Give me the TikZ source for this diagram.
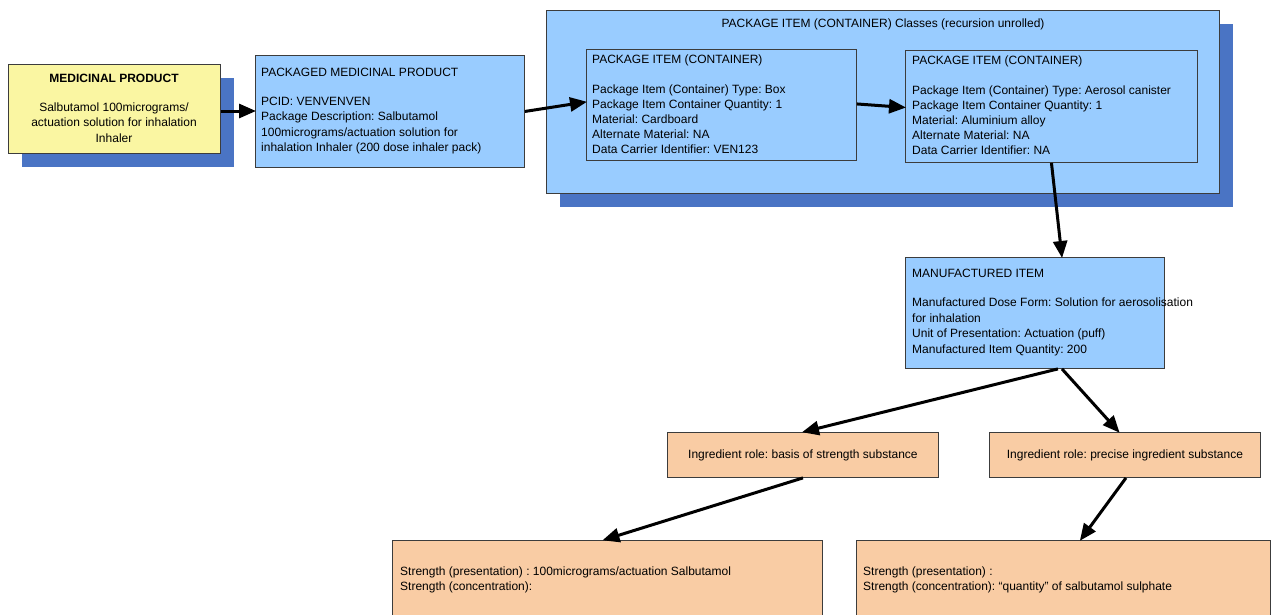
\documentclass[tikz,border=0pt]{standalone}
\usepackage{fontspec}
\setmainfont{Liberation Sans}
\usetikzlibrary{arrows.meta}
\frenchspacing
\definecolor{ybox}{HTML}{FAF6A2}
\definecolor{bbox}{HTML}{99CCFF}
\definecolor{shadowblue}{HTML}{4A74C4}
\definecolor{obox}{HTML}{F9CCA4}
\definecolor{edge}{HTML}{3C3C3C}
\tikzset{
  box/.style={draw=edge, line width=0.9pt, inner sep=0pt, anchor=north west},
  txt/.style={anchor=north west, inner sep=0pt, align=left, font=\fontsize{12}{15.5}\selectfont},
  ctxt/.style={inner sep=0pt, align=center, font=\fontsize{12}{15.5}\selectfont},
  arr/.style={-{Triangle[length=17pt,width=14pt]}, line width=3pt, shorten >=-1pt}
}
\begin{document}
\begin{tikzpicture}[x=1pt,y=-1pt]
\clip (0,0) rectangle (1272,614);
\fill[white] (0,0) rectangle (1272,614);
% shadows
\fill[shadowblue] (22,78) rectangle (234,167);
\fill[shadowblue] (560,24) rectangle (1233,207);
% boxes
\node[box, fill=ybox, minimum width=212pt, minimum height=89pt] (mp) at (8,64) {};
\node[box, fill=bbox, minimum width=269pt, minimum height=112pt] (pmp) at (255,55) {};
\node[box, fill=bbox, minimum width=673pt, minimum height=183pt] (outer) at (546,10) {};
\node[box, fill=bbox, minimum width=270pt, minimum height=111pt] (pi1) at (586,49) {};
\node[box, fill=bbox, minimum width=292pt, minimum height=112pt] (pi2) at (905,50) {};
\node[box, fill=bbox, minimum width=259pt, minimum height=111pt] (mi) at (905,257) {};
\node[box, fill=obox, minimum width=271pt, minimum height=45pt] (ing1) at (667,432) {};
\node[box, fill=obox, minimum width=271pt, minimum height=45pt] (ing2) at (989,432) {};
\node[box, fill=obox, minimum width=430pt, minimum height=90pt] (s1) at (392,540) {};
\node[box, fill=obox, minimum width=414pt, minimum height=90pt] (s2) at (856,540) {};
% texts
\node[ctxt, anchor=north] (mpt) at (114,73.5) {\textbf{MEDICINAL PRODUCT}\\[13.5pt]Salbutamol 100micrograms/\\actuation solution for inhalation\\Inhaler};
\node[txt] (pmpt) at (261,67.5) {PACKAGED MEDICINAL PRODUCT\\[13.5pt]PCID: VENVENVEN\\Package Description: Salbutamol\\100micrograms/actuation solution for\\inhalation Inhaler (200 dose inhaler pack)};
\node[ctxt, anchor=north] (outert) at (883,18.5) {PACKAGE ITEM (CONTAINER) Classes (recursion unrolled)};
\node[txt, font=\fontsize{12}{15.2}\selectfont] (pi1t) at (592,54.5) {PACKAGE ITEM (CONTAINER)\\[14.5pt]Package Item (Container) Type: Box\\Package Item Container Quantity: 1\\Material: Cardboard\\Alternate Material: NA\\Data Carrier Identifier: VEN123};
\node[txt, font=\fontsize{12}{15.2}\selectfont] (pi2t) at (912,55.5) {PACKAGE ITEM (CONTAINER)\\[14.5pt]Package Item (Container) Type: Aerosol canister\\Package Item Container Quantity: 1\\Material: Aluminium alloy\\Alternate Material: NA\\Data Carrier Identifier: NA};
\node[txt] (mit) at (912,268.5) {MANUFACTURED ITEM\\[14pt]Manufactured Dose Form: Solution for aerosolisation\\for inhalation\\Unit of Presentation: Actuation (puff)\\Manufactured Item Quantity: 200};
\node[ctxt] (ing1t) at (ing1.center) {Ingredient role: basis of strength substance};
\node[ctxt] (ing2t) at (ing2.center) {Ingredient role: precise ingredient substance};
\node[txt, font=\fontsize{12}{15}\selectfont] (s1t) at (400,566.5) {Strength (presentation) : 100micrograms/actuation Salbutamol\\Strength (concentration):};
\node[txt, font=\fontsize{12}{15}\selectfont] (s2t) at (863,566.5) {Strength (presentation) :\\Strength (concentration): ``quantity'' of salbutamol sulphate};
% arrows
\draw[arr] (mp.east |- 0,111) -- (pmp.west |- 0,111);
\draw[arr] (pmp.east) -- ([yshift=3pt]pi1.west);
\draw[arr] ([yshift=1pt]pi1.east) -- ([yshift=-1pt]pi2.west);
\draw[arr] (pi2.south) -- ([xshift=27pt]mi.north);
\draw[arr] ([xshift=23pt]mi.south) -- (ing1.north);
\draw[arr] ([xshift=27pt]mi.south) -- ([xshift=-6pt]ing2.north);
\draw[arr] (ing1.south) -- ([xshift=-4pt]s1.north);
\draw[arr] ([xshift=1pt]ing2.south) -- ([xshift=17pt]s2.north);
\end{tikzpicture}
\end{document}
